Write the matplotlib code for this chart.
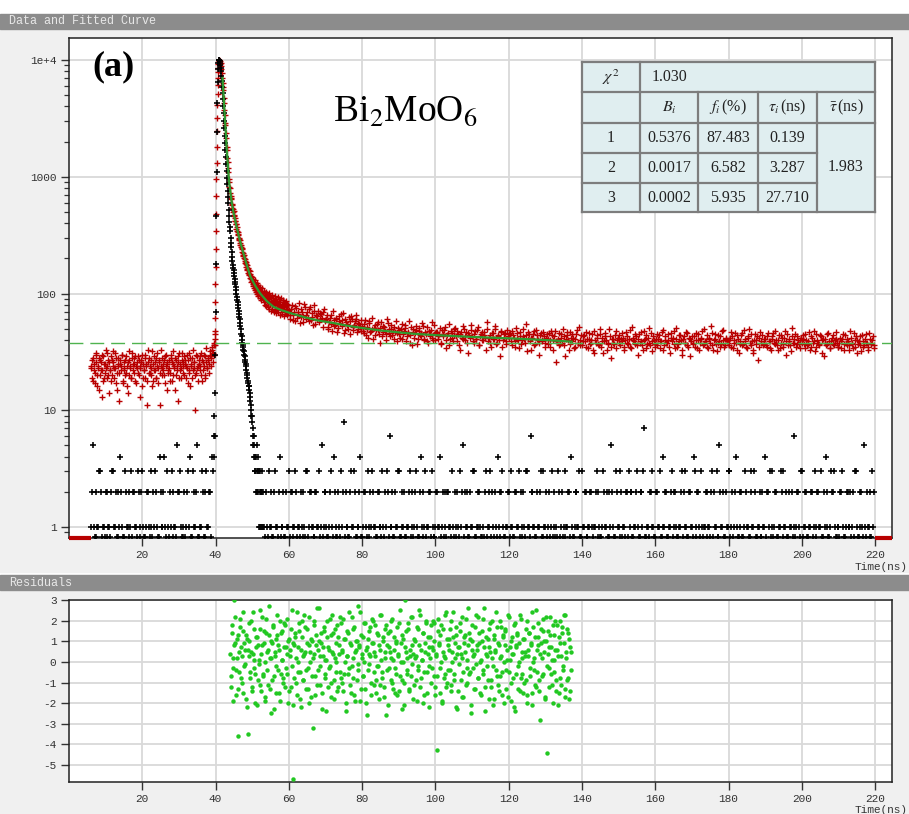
import numpy as np
import matplotlib
matplotlib.use("Agg")
import matplotlib.pyplot as plt
from matplotlib.patches import Rectangle
from matplotlib.ticker import LogLocator, NullFormatter

# ---------------------------------------------------------------- data
# photon counts of the sample decay (red); channel blocks interleave in time
pre_start, pre_step = 6.0, 0.25
counts_pre = [
    24, 19, 28, 22, 17, 26, 31, 20, 23, 15, 27, 22, 30, 18, 25, 21, 33,
    19, 24, 27, 14, 22, 29, 20, 26, 23, 31, 17, 21, 28, 24, 12, 25, 22,
    30, 18, 23, 27, 21, 16, 26, 32, 20, 24, 19, 28, 22, 25, 29, 17, 23,
    21, 27, 24, 13, 26, 30, 19, 22, 28, 25, 18, 33, 21, 24, 27, 20, 16,
    25, 29, 22, 19, 31, 23, 26, 11, 24, 28, 20, 22, 27, 17, 30, 25, 21,
    23, 18, 28, 26, 20, 32, 24, 15, 27, 22, 29, 19, 25, 23, 31, 21, 26,
    20, 27, 24, 30, 17, 22, 28, 25, 19, 33, 23, 26, 10, 21, 29, 24, 27,
    22, 31, 18, 26, 24, 29, 20, 34, 23, 27, 25, 30, 28, 33, 26, 38, 45,
]
pre_b_start, pre_b_step = 6.125, 0.25
counts_pre_b = [
    23, 27, 18, 25, 21, 30, 16, 24, 28, 20, 26, 13, 22, 29, 19, 25, 23,
    31, 20, 26, 22, 18, 27, 24, 32, 19, 23, 28, 15, 25, 21, 27, 24, 30,
    17, 22, 26, 20, 29, 24, 14, 27, 23, 19, 31, 25, 21, 28, 18, 24, 26,
    29, 20, 23, 27, 16, 25, 22, 30, 19, 24, 11, 26, 28, 21, 23, 32, 18,
    22, 26, 19, 28, 24, 17, 27, 21, 33, 23, 25, 20, 29, 24, 15, 26, 22,
    27, 21, 30, 18, 25, 23, 28, 20, 24, 12, 26, 31, 22, 19, 27, 24, 29,
    25, 19, 23, 27, 21, 31, 16, 24, 28, 22, 26, 20, 30, 23, 18, 25, 29,
    24, 20, 27, 22, 30, 19, 26, 23, 28, 21, 32, 24, 29, 35, 31, 36, 41,
]
rise_start, rise_step = 39.70, 0.05
counts_rise = [30, 36, 48, 62, 85, 120, 170, 240, 340, 480, 680, 950, 1300,
               1800, 2450, 3200, 4100, 5100, 6100, 7000, 7900, 8600, 9200,
               9600, 9900, 10000]
decay_start, decay_step = 41.0, 0.1
counts_decay = [
    9800, 9500, 9700, 9200, 9400, 8900, 8300, 7700, 7000, 6400,
    5900, 5500, 4700, 4300, 3700, 3400, 2900, 2750, 2350, 2150,
    1800, 1700, 1450, 1350, 1180, 1100, 960, 910, 820, 800,
    720, 690, 655, 640, 585, 575, 540, 530, 495, 505,
    465, 470, 440, 420, 415, 390, 395, 360, 370, 345,
    335, 320, 325, 295, 300, 285, 270, 285, 260, 250,
    262, 240, 228, 245, 215, 222, 208, 200, 214, 190,
    196, 182, 188, 170, 178, 163, 175, 158, 166, 150,
    160, 148, 143, 155, 136, 146, 132, 140, 125, 138,
    128, 120, 134, 115, 126, 112, 121, 130, 108, 118,
    112, 104, 122, 99, 116, 108, 95, 118, 103, 110,
    97, 114, 92, 106, 100, 88, 111, 96, 104, 90,
    94, 84, 105, 89, 101, 80, 97, 92, 78, 104,
    87, 99, 76, 93, 85, 102, 74, 90, 96, 82,
    71, 94, 86, 79, 98, 73, 88, 81, 92, 69,
    85, 77, 95, 72, 83, 90, 68, 79, 87, 74,
    93, 70, 81, 76, 89, 66, 84, 78, 72, 91,
    75, 82, 67, 88, 73, 80, 64, 85, 77, 70,
    83, 69, 78, 86, 65, 74, 81, 71, 79, 68,
]
tail_start, tail_step = 60.0, 0.4
counts_tail = [
    72, 61, 80, 66, 58, 75, 69, 83, 63, 70, 57, 77, 65, 62, 73, 59, 68, 79, 55, 64, 71, 60, 67, 52, 74,
    58, 66, 50, 62, 55, 71, 53, 60, 47, 64, 56, 59, 68, 49, 57, 54, 63, 45, 61, 52, 58, 66, 50, 55, 48,
    53, 46, 59, 50, 42, 56, 48, 62, 51, 44, 55, 49, 38, 57, 47, 52, 45, 60, 50, 43, 54, 48, 41, 58, 46,
    49, 42, 55, 45, 51, 39, 47, 58, 44, 36, 50, 46, 53, 41, 48, 43, 56, 40, 47, 52, 38, 45, 49, 42, 54,
    40, 47, 43, 51, 37, 45, 49, 34, 44, 55, 41, 46, 39, 50, 43, 48, 36, 45, 42, 53, 40, 47, 31, 44, 49,
    43, 38, 48, 41, 52, 36, 45, 40, 47, 42, 57, 39, 44, 35, 46, 41, 50, 38, 43, 29, 47, 40, 45, 37, 49,
    42, 46, 36, 44, 39, 51, 41, 34, 47, 40, 43, 38, 55, 41, 45, 33, 42, 48, 37, 44, 40, 30, 46, 39, 43,
    38, 45, 41, 35, 48, 40, 43, 26, 39, 46, 37, 42, 50, 36, 41, 44, 33, 47, 39, 42, 35, 45, 38, 52, 40,
    36, 43, 39, 47, 34, 41, 38, 45, 31, 40, 44, 37, 50, 35, 42, 39, 46, 33, 38, 43, 28, 41, 37, 48, 40,
    44, 36, 39, 42, 33, 47, 38, 41, 35, 52, 40, 37, 43, 30, 45, 39, 36, 48, 41, 34, 42, 38, 46, 32, 40,
    37, 45, 41, 34, 39, 49, 36, 43, 38, 40, 31, 46, 42, 37, 51, 35, 39, 44, 33, 41, 38, 47, 36, 42, 29,
    43, 38, 35, 46, 40, 33, 42, 48, 37, 39, 44, 34, 41, 53, 36, 40, 45, 32, 38, 43, 37, 49, 35, 41, 39,
    36, 42, 47, 34, 40, 38, 44, 31, 39, 46, 37, 41, 35, 43, 50, 36, 39, 33, 45, 40, 27, 42, 38, 44, 37,
    41, 35, 46, 39, 33, 43, 38, 48, 36, 40, 34, 44, 37, 42, 30, 45, 39, 36, 51, 38, 41, 35, 43, 37, 40,
    38, 44, 34, 40, 37, 47, 35, 42, 39, 32, 45, 38, 36, 43, 40, 29, 41, 37, 46, 34, 39, 44, 36, 41, 38,
    35, 42, 39, 45, 33, 38, 41, 36, 48, 37, 34, 40, 43, 31, 39, 36, 44, 35, 41, 38, 33, 46, 37, 40, 36,
]
tail_b_start, tail_b_step = 60.2, 0.4
counts_tail_b = [
    66, 74, 59, 70, 78, 62, 67, 56, 73, 64, 81, 60, 69, 58, 76, 63, 54, 71, 65, 61, 57, 68, 62, 70, 59,
    61, 52, 57, 65, 48, 59, 54, 62, 51, 58, 67, 53, 46, 60, 55, 50, 58, 64, 49, 54, 61, 47, 56, 52, 59,
    48, 55, 44, 52, 58, 47, 50, 41, 54, 49, 57, 45, 51, 43, 53, 48, 40, 56, 46, 50, 44, 52, 47, 39, 51,
    45, 50, 41, 48, 54, 43, 46, 38, 52, 47, 42, 49, 37, 51, 44, 46, 53, 41, 45, 39, 48, 43, 57, 40, 46,
    47, 41, 45, 38, 49, 43, 52, 40, 46, 36, 48, 42, 44, 51, 39, 45, 33, 47, 41, 50, 43, 38, 46, 42, 54,
    39, 45, 41, 49, 36, 43, 47, 40, 44, 33, 50, 42, 38, 46, 41, 53, 37, 44, 40, 48, 35, 42, 46, 39, 43,
    45, 39, 48, 42, 35, 46, 40, 43, 37, 50, 41, 44, 32, 47, 39, 42, 45, 36, 49, 41, 38, 44, 40, 47, 35,
    42, 37, 46, 40, 44, 33, 48, 39, 41, 36, 45, 38, 43, 29, 47, 40, 37, 42, 45, 34, 41, 49, 38, 36, 44,
    39, 44, 35, 41, 46, 37, 40, 33, 48, 38, 42, 36, 45, 39, 31, 43, 40, 37, 50, 35, 41, 38, 44, 34, 42,
    38, 41, 46, 35, 40, 43, 37, 49, 34, 42, 39, 45, 36, 41, 38, 47, 33, 40, 44, 37, 51, 36, 39, 43, 35,
    41, 36, 44, 39, 47, 33, 40, 38, 45, 35, 42, 39, 48, 34, 41, 37, 44, 40, 30, 43, 38, 46, 35, 41, 39,
    37, 43, 40, 34, 45, 38, 41, 36, 50, 39, 35, 42, 38, 46, 33, 41, 37, 44, 39, 35, 48, 40, 36, 42, 38,
    40, 35, 43, 38, 46, 33, 41, 37, 44, 36, 49, 39, 34, 42, 38, 45, 31, 40, 37, 43, 35, 47, 39, 36, 41,
    36, 43, 39, 34, 41, 46, 37, 40, 33, 44, 38, 42, 35, 48, 39, 36, 41, 32, 43, 38, 45, 37, 40, 34, 42,
    41, 37, 45, 36, 39, 33, 43, 38, 48, 35, 40, 37, 44, 31, 41, 38, 36, 45, 39, 34, 42, 37, 40, 47, 35,
    38, 34, 41, 37, 44, 36, 39, 33, 42, 38, 46, 35, 40, 37, 43, 32, 39, 36, 45, 38, 35, 41, 37, 43, 34,
]

# instrument response (black); channel blocks interleave in time
irf_pre_start, irf_pre_step = 6.0, 0.5
irf_pre = [
    1, 5, 0, 2, 1, 3, 0, 1, 2, 0,
    1, 2, 3, 1, 0, 2, 4, 1, 0, 2,
    1, 0, 3, 2, 1, 0, 2, 1, 3, 0,
    1, 2, 0, 1, 2, 3, 1, 0, 2, 1,
    4, 0, 1, 2, 3, 0, 1, 5, 2, 1,
    0, 2, 1, 3, 4, 0, 2, 1, 5, 0,
    1, 2, 0, 3, 1, 2, 4, 4,
]
irf_pre_b_start, irf_pre_b_step = 6.25, 0.5
irf_pre_b = [
    2, 1, 0, 1, 3, 2, 1, 0, 2, 1,
    0, 3, 1, 2, 0, 1, 2, 0, 3, 1,
    2, 1, 0, 2, 1, 3, 0, 2, 1, 0,
    2, 1, 3, 0, 1, 2, 0, 4, 1, 2,
    1, 3, 0, 1, 2, 1, 0, 2, 3, 0,
    1, 0, 2, 1, 0, 3, 1, 2, 0, 1,
    3, 0, 2, 1, 2, 0, 3, 6,
]
irf_peak_start, irf_peak_step = 39.6, 0.1
irf_peak = [
    6, 9, 14, 30,
    70, 180, 460, 1100, 2400, 4300, 6500, 8300, 9400, 9900,
    10000, 9800, 9500, 9100, 8600, 8000, 7300, 6600, 5900, 5200,
    4600, 4000, 3500, 3000, 2600, 2250, 1950, 1700, 1480, 1290,
    1120, 980, 860, 760, 670, 590, 520, 460, 410, 370,
    340, 300, 270, 250, 225, 205, 190, 175, 165, 158,
    150, 142, 134, 126, 120, 114, 108, 100, 93, 88,
    84, 79, 75, 71, 67, 63, 60, 56, 53, 50,
    45, 43, 40, 38, 36, 35, 33, 32, 30, 29,
    27, 26, 25, 24, 22, 21, 20, 19, 18, 17,
    16, 16, 15, 14, 13, 12, 11, 10, 9, 9,
    8, 7, 6, 5, 6, 4, 5, 3, 4, 3,
    4, 2, 3, 5, 2, 3, 2, 4, 1, 3,
    2, 1, 3, 2, 1, 2, 3, 1, 2, 1,
]
irf_tail_start, irf_tail_step = 53.0, 0.5
irf_tail = [
    2, 0, 1, 3, 1, 0, 2, 1, 0, 4, 1, 2, 0, 1, 3, 2, 0, 1, 2, 1,
    0, 1, 2, 0, 3, 1, 2, 1, 0, 2, 1, 0, 5, 1, 2, 0, 1, 3, 0, 2,
    1, 2, 0, 1, 8, 2, 1, 0, 3, 1, 2, 0, 1, 4, 0, 2, 1, 3, 0, 1,
    2, 1, 0, 2, 1, 3, 0, 1, 2, 6, 1, 0, 2, 1, 3, 0, 1, 2, 0, 1,
    3, 1, 0, 2, 1, 0, 4, 2, 1, 0, 1, 2, 3, 0, 1, 2, 1, 0, 2, 1,
    0, 2, 1, 3, 0, 1, 2, 0, 1, 5, 2, 1, 0, 2, 1, 3, 0, 1, 2, 0,
    1, 2, 0, 1, 3, 2, 0, 1, 4, 0, 2, 1, 0, 1, 2, 3, 1, 0, 2, 1,
    0, 1, 2, 0, 3, 1, 6, 2, 1, 0, 1, 2, 0, 3, 1, 0, 2, 1, 0, 2,
    1, 3, 0, 2, 1, 0, 1, 2, 4, 0, 1, 2, 1, 0, 3, 1, 2, 0, 1, 2,
    0, 1, 3, 2, 0, 1, 2, 1, 0, 2, 5, 1, 0, 2, 1, 3, 0, 1, 2, 0,
    1, 2, 0, 1, 3, 0, 2, 1, 7, 0, 1, 2, 3, 1, 0, 2, 1, 0, 4, 1,
    2, 0, 1, 3, 1, 2, 0, 1, 2, 0, 3, 1, 0, 2, 1, 4, 0, 2, 1, 3,
    0, 1, 2, 1, 0, 3, 2, 1, 0, 5, 1, 2, 0, 1, 3, 0, 2, 1, 4, 0,
    1, 2, 0, 3, 1, 0, 2, 1, 3, 0, 1, 2, 0, 1, 4, 2, 1, 0, 3, 1,
    2, 0, 1, 2, 3, 1, 0, 2, 1, 0, 6, 1, 2, 0, 3, 1, 2, 0, 1, 2,
    0, 3, 1, 2, 1, 0, 2, 4, 1, 0, 3, 2, 1, 0, 1, 2, 3, 0, 1, 2,
    1, 0, 2, 3, 1, 0, 2, 1, 5, 0, 1, 2, 0, 1,
]
irf_tail_b_start, irf_tail_b_step = 53.25, 0.5
irf_tail_b = [
    1, 2, 0, 1, 2, 0, 3, 1, 2, 0, 1, 0, 2, 1, 0, 2, 1, 3, 0, 1,
    2, 0, 1, 3, 0, 2, 1, 0, 2, 1, 3, 1, 0, 2, 1, 0, 2, 1, 4, 0,
    0, 1, 3, 2, 0, 1, 0, 2, 1, 3, 0, 1, 2, 0, 1, 2, 0, 1, 2, 3,
    1, 0, 2, 1, 0, 1, 2, 3, 0, 1, 2, 0, 1, 3, 0, 2, 1, 0, 1, 2,
    0, 2, 1, 3, 0, 2, 1, 0, 3, 1, 2, 0, 1, 0, 2, 1, 4, 1, 0, 2,
    2, 1, 0, 1, 2, 0, 1, 3, 2, 0, 1, 2, 0, 1, 3, 0, 1, 2, 1, 0,
    0, 3, 1, 2, 0, 1, 2, 0, 1, 2, 3, 0, 1, 2, 0, 1, 0, 2, 1, 3,
    2, 0, 1, 3, 1, 0, 2, 1, 0, 2, 1, 3, 0, 1, 2, 1, 0, 3, 1, 0,
    0, 2, 1, 0, 3, 1, 2, 0, 1, 0, 2, 1, 3, 0, 1, 2, 0, 1, 2, 1,
    1, 2, 0, 1, 0, 3, 1, 2, 0, 1, 2, 0, 3, 1, 0, 2, 1, 0, 2, 3,
    2, 0, 1, 2, 1, 0, 2, 3, 0, 1, 0, 2, 1, 0, 2, 1, 3, 0, 1, 2,
    0, 1, 2, 0, 2, 1, 0, 1, 3, 2, 1, 0, 2, 1, 0, 3, 1, 2, 0, 1,
    1, 2, 0, 1, 2, 0, 1, 3, 0, 2, 1, 0, 2, 1, 3, 1, 0, 2, 1, 0,
    2, 0, 1, 2, 1, 0, 3, 1, 2, 0, 1, 0, 2, 1, 0, 2, 3, 1, 0, 2,
    0, 1, 3, 0, 1, 2, 0, 1, 2, 1, 0, 2, 1, 3, 0, 1, 2, 0, 1, 2,
    1, 0, 2, 1, 3, 0, 1, 2, 0, 1, 2, 3, 0, 1, 0, 2, 1, 0, 2, 1,
    2, 1, 0, 3, 0, 1, 2, 0, 1, 2, 1, 0, 3, 2,
]

# fitted tri-exponential decay
fit_t = [41.9, 42.3, 42.6, 43.1, 43.7, 44.3, 44.9, 45.6, 46.4, 47.2, 48.3,
         49.5, 50.8, 52.2, 54.0, 55.8, 58.0, 60.4, 64.0, 67.7, 72.0, 76.0,
         80.4, 85.0, 90.0, 95.0, 100.4, 110.0, 120.4, 130.0, 137.2]
fit_y = [7000, 4300, 3000, 1650, 900, 640, 490, 390, 305, 245, 185, 140, 117,
         100, 86, 77, 72, 68, 63, 59, 56, 53, 50.5, 48.3, 46.5, 45.0, 44.0,
         42.5, 41.3, 40.0, 38.7]
background_level = 37.7
fit_range = (6.0, 220.0)

# weighted residuals over the fit window (two interleaved channel blocks)
res_start, res_step = 44.0, 0.25
residuals = [
    0.4, -1.2, 1.8, -0.3, 3.0, 0.9, -1.6, 0.2, 1.3, -3.6, -0.5, 2.1, 0.7, -1.0, 1.5, -0.2, 0.6, -1.8, 1.1, -3.5,
    0.3, 1.9, -0.8, 0.5, -1.4, 2.4, 0.1, -0.6, 1.2, -2.1, 0.8, -0.1, 1.6, -1.1, 0.4, 2.2, -0.7, 0.9, -1.9, 1.4,
    -0.4, 0.6, 2.7, -1.3, 0.2, 1.0, -0.9, 1.7, -2.3, 0.5, -0.2, 1.3, 0.8, -1.5, 2.0, -0.6, 0.1, 1.5, -1.0, 0.7,
    1.8, -0.3, 0.4, -2.0, 1.1, 0.6, -1.2, 2.5, -5.7, 0.9, -0.8, 1.4, 0.2, -1.6, 0.7, 1.9, -0.5, -2.2, 1.2, 0.3,
    -0.9, 2.3, 0.5, -0.4, 1.6, -1.3, 0.8, 0.0, -1.7, 1.0, -3.2, 2.0, 0.4, -0.7, 1.3, -1.1, 0.6, 2.6, -0.2, 0.9,
    -1.5, 0.3, 1.7, -0.6, 0.1, -2.4, 1.2, 0.7, -0.3, 2.1, -1.0, 0.5, 1.4, -1.8, 0.2, 0.9, -0.5, 1.8, -1.2, 0.4,
    2.2, -0.8, 0.6, -1.4, 1.1, 0.0, -2.0, 1.5, 0.3, -0.6, 2.4, -1.1, 0.8, -0.2, 1.6, -1.6, 0.5, 1.0, -0.9, 2.7,
    -0.4, 0.7, -1.9, 1.3, 0.2, -0.7, 1.9, -1.3, 0.6, -2.6, 1.1, 0.4, -0.1, 1.7, -1.0, 0.9, 2.0, -0.5, 0.3, -1.5,
    1.4, -0.2, 0.8, -1.1, 2.3, 0.1, -0.8, 1.2, -1.7, 0.5, 1.8, -0.4, -2.1, 0.7, 1.5, -0.9, 0.2, 2.1, -1.3, 0.6,
    -0.3, 1.0, -1.6, 0.4, 1.9, -0.7, 0.9, -2.3, 1.3, 0.0, -1.0, 3.0, 0.5, -0.6, 1.6, -1.4, 0.3, 2.2, -0.1, 0.8,
    -1.8, 1.1, 0.2, -0.9, 1.7, -0.4, 2.5, -1.2, 0.6, 0.1, -2.0, 1.4, -0.5, 0.9, 1.9, -1.5, 0.4, -0.2, 1.2, -1.0,
    0.7, 2.0, -0.7, 1.0, -1.6, 0.3, -4.3, 1.5, 0.8, -0.3, 1.8, -1.9, 0.5, -0.8, 2.3, 0.2, -1.2, 1.1, -0.4, 0.6,
    1.6, -1.1, 0.0, 2.4, -0.6, 0.9, -2.2, 1.3, 0.4, -1.4, 0.7, 1.9, -0.9, 0.2, -1.7, 1.2, 0.5, 2.1, -0.3, -1.0,
    0.8, 1.4, -0.5, -2.5, 1.0, 0.3, -1.3, 1.7, -0.1, 0.6, 2.2, -0.8, 0.9, -1.5, 0.1, 1.5, -0.6, 2.6, -1.2, 0.4,
    -0.2, 1.1, -1.8, 0.7, 1.9, -0.9, 0.2, -2.1, 1.3, 0.5, -0.4, 1.7, -1.1, 0.8, 2.0, -0.7, 0.3, -1.6, 1.2, 0.0,
    1.6, -1.3, 0.6, 2.3, -0.5, 0.1, -1.9, 1.0, 0.4, -0.8, 1.8, -2.4, 0.7, 1.3, -0.2, 0.9, -1.4, 2.1, 0.2, -0.6,
    1.1, -1.0, 0.5, 1.6, -2.0, 0.3, 1.4, -0.7, 0.8, -1.5, 2.4, 0.0, -0.4, 1.2, -1.2, 0.6, 1.9, -0.9, -2.8, 0.9,
    0.2, 1.5, -0.6, 1.0, -1.7, 2.2, -4.4, 0.4, -0.3, 1.3, 0.7, -1.1, 1.8, -0.5, 0.1, 2.0, -1.4, 0.6, -2.1, 1.2,
    -0.8, 0.3, 1.7, -0.2, 0.9, -1.3, 2.3, 0.5, -0.9, 1.4, -1.8, 0.7, -0.4,
]
res_b_start, res_b_step = 44.125, 0.25
residuals_b = [
    -0.7, 1.4, 0.2, -1.9, 0.8, 2.2, -0.4, 1.1, -1.3, 0.5, 1.7, -0.8, 0.3, 2.4, -1.5, 0.9, -0.1, 1.3, -2.2, 0.6,
    1.0, -0.5, 2.0, -1.2, 0.4, -0.3, 1.6, -2.0, 0.7, 1.2, -0.9, 0.1, 2.5, -1.4, 0.8, -0.6, 1.5, 0.0, -1.7, 2.1,
    0.5, -1.1, 1.3, 0.2, -2.5, 0.9, 1.8, -0.7, 0.3, -1.5, 1.1, 2.3, -0.4, 0.6, -1.9, 1.4, 0.1, -0.8, 1.9, -1.2,
    0.7, 2.1, -0.6, 1.0, -1.4, 0.3, 1.6, -0.2, -2.1, 0.8, 1.2, -1.0, 2.4, 0.0, -0.5, 1.5, -1.8, 0.6, 2.0, -0.9,
    0.4, 1.7, -1.3, 0.9, -0.3, 2.2, -2.0, 0.5, 1.1, -0.7, 0.2, 1.8, -1.6, 0.8, 2.6, -0.4, 1.0, -1.1, 0.3, 1.4,
    -2.3, 0.7, 1.5, -0.8, 0.1, 2.0, -1.2, 0.6, -0.2, 1.3, -1.7, 2.3, 0.4, -0.9, 1.6, 0.0, -1.4, 1.2, 0.8, -0.5,
    1.9, -1.0, 0.5, 2.1, -0.6, 1.1, -2.4, 0.3, 1.4, -0.3, 0.9, -1.5, 2.2, 0.2, -0.8, 1.7, -1.9, 0.6, 1.0, -0.1,
    0.8, 2.4, -1.3, 0.4, 1.2, -0.7, 0.0, 1.9, -2.0, 0.7, -0.4, 1.5, 0.3, -1.6, 2.1, 0.9, -1.1, 0.5, 1.8, -0.9,
    -0.2, 1.3, -1.8, 0.6, 2.3, -0.5, 1.0, -1.2, 0.2, 1.6, -2.6, 0.8, 1.4, -0.3, 0.5, 2.0, -1.0, 0.1, 1.2, -1.5,
    0.9, -0.6, 1.7, 0.3, -1.4, 2.5, 0.0, -0.9, 1.1, -2.1, 0.7, 1.5, -0.4, 0.2, 1.9, -1.3, 0.6, -0.7, 2.2, 0.4,
    -1.1, 1.0, 0.3, -1.9, 1.6, -0.2, 0.8, 2.3, -0.8, 0.1, 1.4, -1.6, 0.5, 2.0, -0.5, 1.2, -2.2, 0.7, 0.2, 1.8,
    -0.3, 0.6, 1.9, -1.2, 0.4, -0.7, 2.1, 0.9, -1.5, 1.3, 0.0, -2.0, 1.6, 0.3, -0.6, 2.4, -1.0, 0.8, 1.1, -0.4,
    2.0, -1.4, 0.5, 1.2, -0.9, 0.2, 1.7, -2.3, 0.7, -0.1, 1.5, 0.4, -1.7, 2.2, -0.5, 0.9, 1.3, -1.1, 0.1, 2.6,
    -0.6, 1.1, -2.1, 0.6, 1.8, -0.3, 0.4, -1.3, 2.3, 0.8, -0.8, 1.4, 0.0, -1.6, 1.0, 2.1, -0.4, 0.7, -2.4, 1.2,
    0.3, -0.9, 1.6, 0.5, -1.2, 2.0, -0.2, 1.1, -1.8, 0.6, 2.4, -0.7, 0.9, -1.4, 0.2, 1.7, -0.5, 1.3, -2.0, 0.8,
    1.5, -0.4, 0.1, -1.7, 2.2, 0.7, -1.0, 1.2, 0.4, -2.2, 1.9, -0.6, 0.8, 1.4, -1.3, 0.0, 2.3, -0.8, 0.5, -1.5,
    1.1, 0.3, -0.9, 2.0, -1.6, 0.6, 1.4, -0.3, 0.9, -2.1, 1.7, 0.2, -1.1, 2.5, -0.5, 0.8, 1.2, -1.4, 0.4, 1.6,
    -0.7, 2.1, 0.5, -1.8, 1.0, -0.2, 1.5, -1.2, 0.7, 2.2, -0.6, 0.1, -2.0, 1.3, 0.6, -0.9, 1.8, 0.3, -1.5, 2.0,
    0.9, -1.1, 1.4, -0.4, 2.3, -1.7, 0.2, 1.6, -0.8, 1.1, -1.4, 0.5,
]

# axis ticks
time_ticks = [20, 40, 60, 80, 100, 120, 140, 160, 180, 200, 220]
count_ticks = [1, 10, 100, 1000, 10000]
count_labels = ["1", "10", "100", "1000", "1e+4"]
res_ticks = [3, 2, 1, 0, -1, -2, -3, -4, -5]

# fit summary table
chi2_value = "1.030"
comp_index = ["1", "2", "3"]
comp_B = ["0.5376", "0.0017", "0.0002"]
comp_f = ["87.483", "6.582", "5.935"]
comp_tau = ["0.139", "3.287", "27.710"]
tau_avg = "1.983"

# ---------------------------------------------------------------- style
plt.rcParams["font.family"] = ["Liberation Mono", "DejaVu Sans Mono"]
plt.rcParams["axes.unicode_minus"] = False
plt.rcParams["mathtext.fontset"] = "stix"

W, H = 909, 814
fig = plt.figure(figsize=(W / 100, H / 100), dpi=100, facecolor="white")


def fx(px):
    return px / W


def fy(py):
    return 1 - py / H


PANEL = "#f0f0f0"
BAR = "#8c8c8c"
RED = "#b80000"
GRID = "#d9d9d9"

# window panels and their caption bars (kept behind the axes)
for top, bottom in [(29, 572), (590, 814)]:
    fig.patches.append(Rectangle((0, fy(bottom)), 1, (bottom - top) / H,
                                 transform=fig.transFigure, color=PANEL,
                                 zorder=-5))
for top, caption in [(14, "Data and Fitted Curve"), (575, "Residuals")]:
    fig.patches.append(Rectangle((0, fy(top + 15)), 1, 15 / H,
                                 transform=fig.transFigure, color=BAR,
                                 zorder=-5))
    fig.text(fx(9), fy(top + 7.5), caption, color="#e8e8e8", fontsize=8.5,
             va="center", ha="left")

x_lim = (0, 224.7)


def style_axes(ax):
    ax.set_facecolor("white")
    ax.set_xlim(*x_lim)
    ax.set_xticks(time_ticks)
    ax.grid(True, which="major", color=GRID, lw=1.3)
    ax.set_axisbelow(True)
    for s in ax.spines.values():
        s.set_color("#222222")
        s.set_linewidth(1.1)
    ax.tick_params(axis="both", which="major", direction="out", length=6,
                   width=1, color="#333333", labelsize=8, labelcolor="#333333",
                   pad=3)
    ax.tick_params(axis="both", which="minor", direction="out", length=3.5,
                   width=0.9, color="#333333")


def channel_times(start, step, values):
    return start + step * np.arange(len(values))


# ---------------------------------------------------------------- decay panel
ax = fig.add_axes([fx(69), fy(537.5), fx(892.3 - 69), (537.5 - 37.7) / H])
style_axes(ax)
ax.set_yscale("log")
y_lo, y_hi = 0.815, 15500
ax.set_ylim(y_lo, y_hi)
ax.set_yticks(count_ticks)
ax.set_yticklabels(count_labels)
ax.yaxis.set_minor_locator(LogLocator(base=10, subs=np.arange(2, 10)))
ax.yaxis.set_minor_formatter(NullFormatter())

zero_floor = 0.83  # empty channels sit on the bottom of the log axis


def shown(values):
    v = np.asarray(values, dtype=float)
    return np.where(v <= 0, zero_floor, v)


sample_blocks = [(pre_start, pre_step, counts_pre),
                 (pre_b_start, pre_b_step, counts_pre_b),
                 (rise_start, rise_step, counts_rise),
                 (decay_start, decay_step, counts_decay),
                 (tail_start, tail_step, counts_tail),
                 (tail_b_start, tail_b_step, counts_tail_b)]
irf_blocks = [(irf_pre_start, irf_pre_step, irf_pre),
              (irf_pre_b_start, irf_pre_b_step, irf_pre_b),
              (irf_peak_start, irf_peak_step, irf_peak),
              (irf_tail_start, irf_tail_step, irf_tail),
              (irf_tail_b_start, irf_tail_b_step, irf_tail_b)]
for start, step, vals in sample_blocks:
    ax.plot(channel_times(start, step, vals), shown(vals), ls="none",
            marker="+", ms=3.8, mew=1.0, color=RED, zorder=3)
for start, step, vals in irf_blocks:
    ax.plot(channel_times(start, step, vals), shown(vals), ls="none",
            marker="+", ms=3.8, mew=1.15, color="black", zorder=3)

ax.axhline(background_level, color="#4fb34f", lw=1.0, dashes=(10, 5), zorder=4)
ax.plot(fit_t, fit_y, color="#2f9a2f", lw=1.6, zorder=5)

# excluded ranges marked on the time axis
ax.plot([x_lim[0], fit_range[0]], [y_lo, y_lo], color=RED, lw=3,
        solid_capstyle="butt", clip_on=False, zorder=6)
ax.plot([fit_range[1], x_lim[1]], [y_lo, y_lo], color=RED, lw=3,
        solid_capstyle="butt", clip_on=False, zorder=6)

fig.text(fx(908), fy(567), "Time(ns)", ha="right", va="center", fontsize=8,
         color="#333333")

# panel annotations
fig.text(fx(113), fy(67), "(a)", family="Liberation Serif", fontweight="bold",
         fontsize=26, ha="center", va="center")
fig.text(fx(405), fy(112), r"Bi$_2$MoO$_6$", family="Liberation Serif",
         fontsize=27, ha="center", va="center")

# ---------------------------------------------------------------- fit table
cols = [581.7, 640.0, 698.3, 757.7, 816.7, 875.0]
rows = [62.3, 92.3, 122.7, 153.3, 183.3, 212.3]
tab = fig.add_axes([fx(cols[0]), fy(rows[-1]), (cols[-1] - cols[0]) / W,
                    (rows[-1] - rows[0]) / H])
tab.set_xlim(cols[0], cols[-1])
tab.set_ylim(rows[-1], rows[0])
tab.axis("off")
tab.add_patch(Rectangle((cols[0], rows[0]), cols[-1] - cols[0],
                        rows[-1] - rows[0], facecolor="#e0eef0",
                        edgecolor="none", zorder=0))
lc = dict(color="#7d7d7d", lw=1.6, zorder=2, solid_capstyle="projecting",
          clip_on=False)
tab.plot([cols[0], cols[-1]], [rows[0]] * 2, **lc)
tab.plot([cols[0], cols[-1]], [rows[1]] * 2, **lc)
tab.plot([cols[0], cols[-1]], [rows[2]] * 2, **lc)
tab.plot([cols[0], cols[4]], [rows[3]] * 2, **lc)
tab.plot([cols[0], cols[4]], [rows[4]] * 2, **lc)
tab.plot([cols[0], cols[-1]], [rows[5]] * 2, **lc)
tab.plot([cols[0]] * 2, [rows[0], rows[-1]], **lc)
tab.plot([cols[1]] * 2, [rows[0], rows[-1]], **lc)
for c in cols[2:5]:
    tab.plot([c] * 2, [rows[1], rows[-1]], **lc)
tab.plot([cols[-1]] * 2, [rows[0], rows[-1]], **lc)

tf = dict(family="Liberation Serif", fontsize=11.5, va="center", ha="center",
          color="#222222", zorder=3)


def mid(a, i):
    return 0.5 * (a[i] + a[i + 1])


tab.text(mid(cols, 0), mid(rows, 0), r"$\chi^2$", **tf)
tab.text(cols[1] + 12, mid(rows, 0), chi2_value, **{**tf, "ha": "left"})
headers = [r"$B_i$", r"$f_i\,$(%)", r"$\tau_i\,$(ns)", r"$\bar{\tau}\,$(ns)"]
for j, h in enumerate(headers):
    tab.text(mid(cols, j + 1), mid(rows, 1), h, **tf)
for i in range(3):
    y = mid(rows, i + 2)
    tab.text(mid(cols, 0), y, comp_index[i], **tf)
    tab.text(mid(cols, 1), y, comp_B[i], **tf)
    tab.text(mid(cols, 2), y, comp_f[i], **tf)
    tab.text(mid(cols, 3), y, comp_tau[i], **tf)
tab.text(mid(cols, 4), 0.5 * (rows[2] + rows[5]), tau_avg, **tf)

# ---------------------------------------------------------------- residuals
axr = fig.add_axes([fx(69), fy(782), fx(892.3 - 69), (782 - 599.5) / H])
style_axes(axr)
axr.set_ylim(-5.83, 3.03)
axr.set_yticks(res_ticks)
for start, step, vals in [(res_start, res_step, residuals),
                          (res_b_start, res_b_step, residuals_b)]:
    axr.plot(channel_times(start, step, vals), vals, ls="none", marker="o",
             ms=3.2, mew=0, color="#22c822", zorder=3)
fig.text(fx(908), fy(810), "Time(ns)", ha="right", va="center", fontsize=8,
         color="#333333")

fig.savefig("out.png", dpi=100, facecolor=fig.get_facecolor())
